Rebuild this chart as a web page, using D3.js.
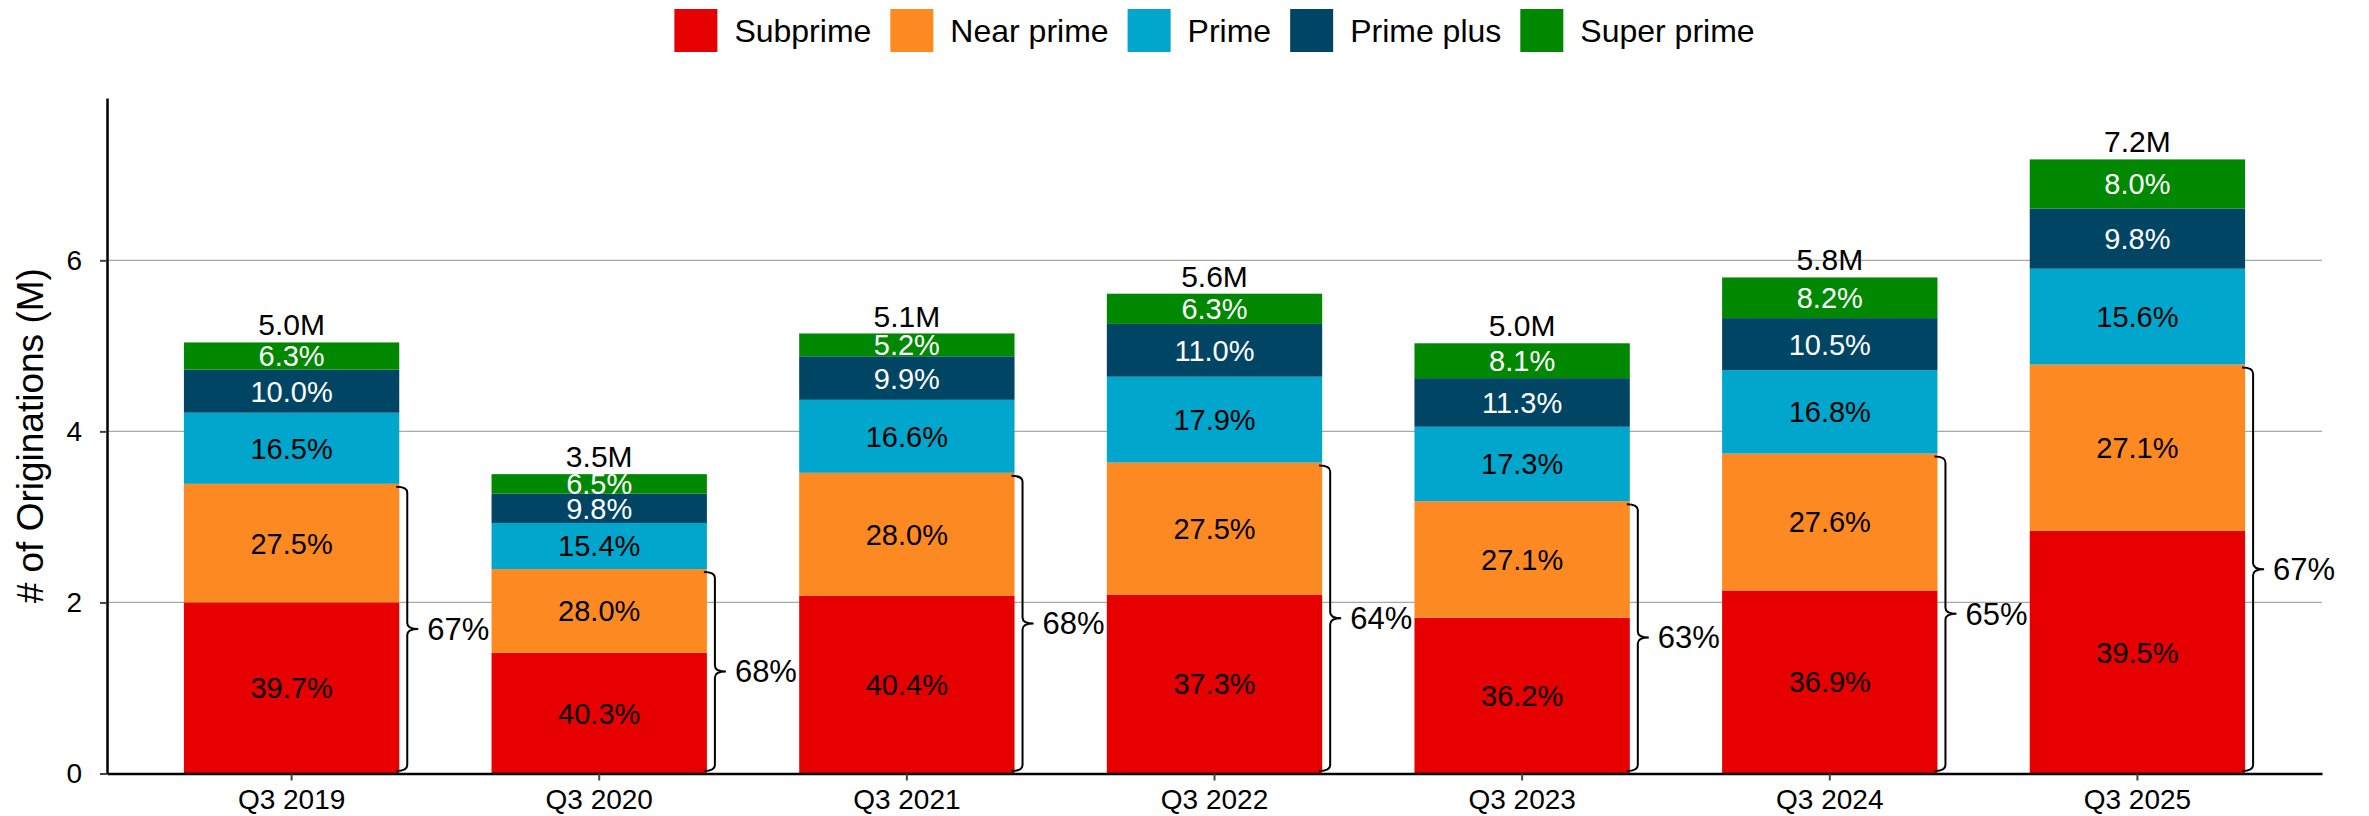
<!DOCTYPE html>
<html>
<head>
<meta charset="utf-8">
<script src="https://cdn.jsdelivr.net/npm/d3@7"></script>
<style>
  body { margin: 0; background: #fff; }
  text { font-family: "Liberation Sans", Arial, sans-serif; }
</style>
</head>
<body>
<script>
var quarters = ["Q3 2019", "Q3 2020", "Q3 2021", "Q3 2022", "Q3 2023", "Q3 2024", "Q3 2025"]
var tiers = ["Subprime", "Near prime", "Prime", "Prime plus", "Super prime"]
var tierColors = ["#e60000", "#fd8923", "#00a6cb", "#004564", "#008800"]
var tierTextColors = ["#000", "#000", "#000", "#fff", "#fff"]

var totals = [5.04, 3.50, 5.14, 5.61, 5.03, 5.80, 7.18]

// share of each tier (%)
var subprimePct = [39.7, 40.3, 40.4, 37.3, 36.2, 36.9, 39.5]
var nearPrimePct = [27.5, 28.0, 28.0, 27.5, 27.1, 27.6, 27.1]
var primePct = [16.5, 15.4, 16.6, 17.9, 17.3, 16.8, 15.6]
var primePlusPct = [10.0, 9.8, 9.9, 11.0, 11.3, 10.5, 9.8]
var superPrimePct = [6.3, 6.5, 5.2, 6.3, 8.1, 8.2, 8.0]

var bracketLabels = ["67%", "68%", "68%", "64%", "63%", "65%", "67%"]
var yTicks = [0, 2, 4, 6]

var pctByTier = [subprimePct, nearPrimePct, primePct, primePlusPct, superPrimePct]

var width = 2369, height = 816
var margin = {left: 107, right: 47, top: 98, bottom: 42.5}

var rows = quarters.map(function(q, i) {
	var r = {quarter: q, total: totals[i], idx: i}
	tiers.forEach(function(t, k) {
		r[t] = totals[i] * pctByTier[k][i] / 100
	})
	return r
})

var stacked = d3.stack().keys(tiers)(rows)

var svg = d3.select("body")
	.append("svg")
	.attr("width", width)
	.attr("height", height)

var x = d3.scaleBand()
	.domain(quarters)
	.range([margin.left, width - margin.right])
	.paddingInner(0.3)
	.paddingOuter(0.25)

var y = d3.scaleLinear()
	.domain([0, d3.max(totals) * 1.1])
	.range([height - margin.bottom, margin.top])

// gridlines
svg.append("g")
	.selectAll("line")
	.data(yTicks.filter(function(d) { return d > 0 }))
	.enter()
	.append("line")
		.attr("x1", margin.left)
		.attr("x2", width - margin.right)
		.attr("y1", function(d) { return y(d) })
		.attr("y2", function(d) { return y(d) })
		.attr("stroke", "#a8a8a8")
		.attr("stroke-width", 1.3)

// stacked bars
var layers = svg.append("g")
	.selectAll("g")
	.data(stacked)
	.enter()
	.append("g")
	.attr("fill", function(d, k) { return tierColors[k] })

layers.selectAll("rect")
	.data(function(d) { return d })
	.enter()
	.append("rect")
		.attr("x", function(d) { return x(d.data.quarter) })
		.attr("width", x.bandwidth())
		.attr("y", function(d) { return y(d[1]) })
		.attr("height", function(d) { return y(d[0]) - y(d[1]) })

// segment labels
stacked.forEach(function(layer, k) {
	svg.append("g")
		.selectAll("text")
		.data(layer)
		.enter()
		.append("text")
			.attr("x", function(d) { return x(d.data.quarter) + x.bandwidth() / 2 })
			.attr("y", function(d) { return (y(d[0]) + y(d[1])) / 2 })
			.attr("dy", "0.36em")
			.attr("text-anchor", "middle")
			.attr("font-size", 29)
			.attr("fill", tierTextColors[k])
			.text(function(d) { return pctByTier[k][d.data.idx].toFixed(1) + "%" })
})

// totals above bars
svg.append("g")
	.selectAll("text")
	.data(rows)
	.enter()
	.append("text")
		.attr("x", function(d) { return x(d.quarter) + x.bandwidth() / 2 })
		.attr("y", function(d) { return y(d.total) - 7 })
		.attr("text-anchor", "middle")
		.attr("font-size", 30)
		.attr("fill", "#000")
		.text(function(d) { return d3.format(".1f")(d.total) + "M" })

// braces for subprime + near prime
function bracePath(d) {
	var right = x(d.quarter) + x.bandwidth()
	var x0 = right - 3, xv = right + 8, xt = right + 19
	var top = y(d["Subprime"] + d["Near prime"]) + 3
	var bot = y(0) - 2.5
	var mid = (top + bot) / 2
	var r = 6
	return "M" + x0 + "," + top +
		"Q" + xv + "," + top + " " + xv + "," + (top + r) +
		"L" + xv + "," + (mid - r) +
		"Q" + xv + "," + mid + " " + xt + "," + mid +
		"Q" + xv + "," + mid + " " + xv + "," + (mid + r) +
		"L" + xv + "," + (bot - r) +
		"Q" + xv + "," + bot + " " + x0 + "," + bot
}

var braces = svg.append("g")
	.selectAll("g")
	.data(rows)
	.enter()
	.append("g")

braces.append("path")
	.attr("d", bracePath)
	.attr("fill", "none")
	.attr("stroke", "#000")
	.attr("stroke-width", 2)

braces.append("text")
	.attr("x", function(d) { return x(d.quarter) + x.bandwidth() + 28 })
	.attr("y", function(d) { return (y(d["Subprime"] + d["Near prime"]) + y(0)) / 2 })
	.attr("dy", "0.36em")
	.attr("font-size", 31)
	.attr("fill", "#000")
	.text(function(d) { return bracketLabels[d.idx] })

// axes
var xAxis = svg.append("g")
	.attr("transform", "translate(0," + y(0) + ")")
	.call(d3.axisBottom(x).tickSize(7).tickSizeOuter(0).tickPadding(9))

xAxis.select(".domain").attr("stroke", "#000").attr("stroke-width", 2.5)
xAxis.selectAll(".tick line").attr("stroke", "#444").attr("stroke-width", 2)
xAxis.selectAll(".tick text")
	.attr("font-size", 28)
	.attr("font-family", "Liberation Sans")
	.attr("fill", "#000")

var yAxis = svg.append("g")
	.attr("transform", "translate(" + margin.left + ",0)")
	.call(d3.axisLeft(y).tickValues(yTicks).tickSize(7).tickSizeOuter(0).tickPadding(18))

yAxis.select(".domain").attr("stroke", "#000").attr("stroke-width", 2.5)
yAxis.selectAll(".tick line").attr("stroke", "#444").attr("stroke-width", 2)
yAxis.selectAll(".tick text")
	.attr("font-size", 28)
	.attr("font-family", "Liberation Sans")
	.attr("fill", "#000")

svg.append("text")
	.attr("transform", "translate(43," + (y.range()[0] + y.range()[1]) / 2 + ") rotate(-90)")
	.attr("text-anchor", "middle")
	.attr("font-size", 37)
	.attr("fill", "#000")
	.text("# of Originations (M)")

// legend
var legend = svg.append("g")
var lx = 0
tiers.forEach(function(t, k) {
	var item = legend.append("g").attr("transform", "translate(" + lx + ",0)")
	item.append("rect")
		.attr("x", 0)
		.attr("y", 9)
		.attr("width", 43)
		.attr("height", 43)
		.attr("fill", tierColors[k])
	var label = item.append("text")
		.attr("x", 60)
		.attr("y", 42)
		.attr("font-size", 32)
		.attr("fill", "#000")
		.text(t)
	lx += 60 + label.node().getComputedTextLength() + 19
})
var legendWidth = lx - 19
var plotCenter = (x.range()[0] + x.range()[1]) / 2
legend.attr("transform", "translate(" + (plotCenter - legendWidth / 2) + ",0)")
</script>
</body>
</html>
